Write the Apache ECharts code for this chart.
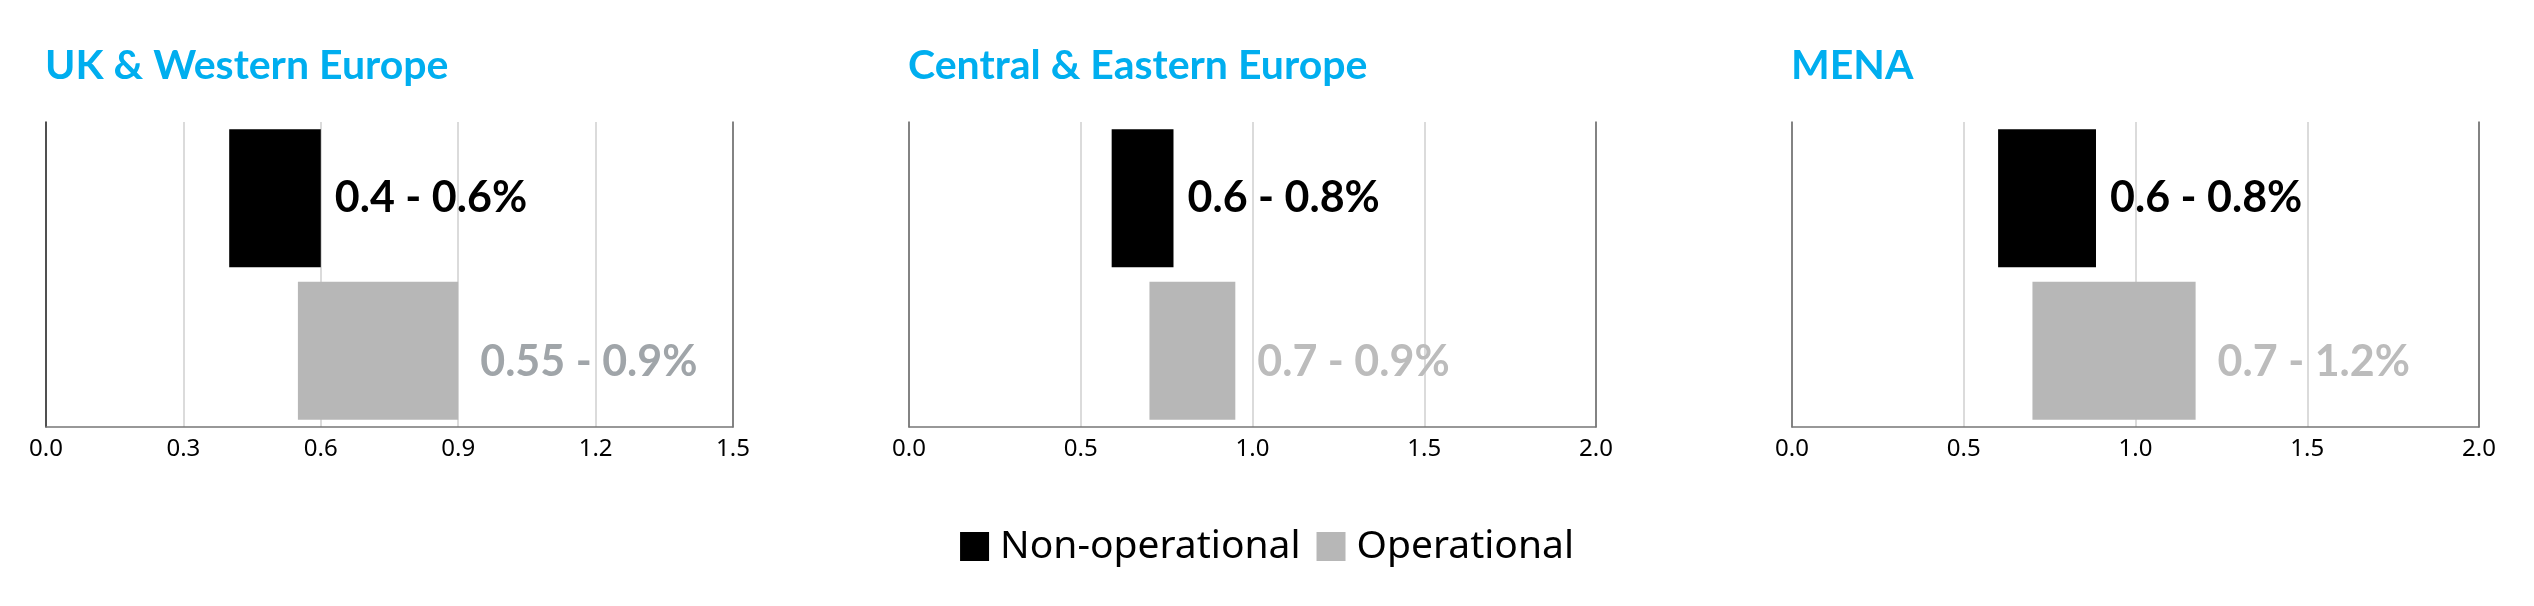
<!DOCTYPE html>
<html>
<head>
<meta charset="utf-8">
<script src="https://cdn.jsdelivr.net/npm/echarts@6/dist/echarts.min.js"></script>
<style>
  html, body { margin: 0; padding: 0; background: #fff; }
  #chart { width: 2534px; height: 606px; }
</style>
</head>
<body>
<div id="chart"></div>
<script>
// regions and categories
var regions = ['UK & Western Europe', 'Central & Eastern Europe', 'MENA'];
var categories = ['Non-operational', 'Operational'];
// axis settings per panel
var axisMax = [1.5, 2.0, 2.0];
var axisStep = [0.3, 0.5, 0.5];
// bar ranges
var nonOpLow = [0.4, 0.59, 0.6];
var nonOpHigh = [0.6, 0.77, 0.885];
var opLow = [0.55, 0.7, 0.7];
var opHigh = [0.9, 0.95, 1.175];
// printed labels
var nonOpText = ['0.4 - 0.6%', '0.6 - 0.8%', '0.6 - 0.8%'];
var opText = ['0.55 - 0.9%', '0.7 - 0.9%', '0.7 - 1.2%'];
var opTextColor = ['#a0a5a9', '#bcbcbc', '#bcbcbc'];

var gridLeft = [46, 909, 1792];
var titleBlue = '#00aeef';

var chart = echarts.init(document.getElementById('chart'));

var grids = [], xAxes = [], yAxes = [], series = [], titles = [];

regions.forEach(function (name, i) {
  titles.push({
    text: name,
    left: gridLeft[i] - 6,
    top: 40,
    textStyle: { color: titleBlue, fontFamily: 'Lato', fontWeight: 'bold', fontSize: 41 }
  });
  grids.push({ left: gridLeft[i], top: 122, width: 687, height: 305, outerBoundsMode: 'none' });
  xAxes.push({
    type: 'value',
    gridIndex: i,
    min: 0,
    max: axisMax[i],
    interval: axisStep[i],
    axisLine: { show: true, lineStyle: { color: '#777', width: 1.5 } },
    axisTick: { show: false },
    axisLabel: {
      color: '#000',
      fontFamily: 'Noto Sans',
      fontSize: 24,
      margin: 10,
      formatter: function (v) { return v.toFixed(1); }
    },
    splitLine: { show: true, lineStyle: { color: '#cfcfcf', width: 1.5 } }
  });
  // left axis
  yAxes.push({
    type: 'category',
    gridIndex: i,
    data: categories,
    inverse: true,
    axisLine: { show: true, lineStyle: { color: i == 0 ? '#222' : '#666', width: 1.5 } },
    axisTick: { show: false },
    axisLabel: { show: false }
  });
  // right border
  yAxes.push({
    type: 'category',
    gridIndex: i,
    position: 'right',
    data: categories,
    inverse: true,
    axisLine: { show: true, lineStyle: { color: '#666', width: 1.5 } },
    axisTick: { show: false },
    axisLabel: { show: false }
  });

  var stackId = 'range' + i;
  series.push({
    name: 'base',
    type: 'bar',
    xAxisIndex: i,
    yAxisIndex: i * 2,
    stack: stackId,
    barWidth: 138,
    silent: true,
    itemStyle: { color: 'transparent' },
    data: [nonOpLow[i], opLow[i]]
  });
  series.push({
    name: 'Non-operational',
    type: 'bar',
    xAxisIndex: i,
    yAxisIndex: i * 2,
    stack: stackId,
    barWidth: 138,
    itemStyle: { color: '#000' },
    label: {
      show: true,
      position: 'right',
      distance: 14,
      color: '#000',
      fontFamily: 'Lato',
      fontWeight: 'bold',
      fontSize: 43,
      formatter: function () { return nonOpText[i]; }
    },
    data: [+(nonOpHigh[i] - nonOpLow[i]).toFixed(3), '-']
  });
  series.push({
    name: 'Operational',
    type: 'bar',
    xAxisIndex: i,
    yAxisIndex: i * 2,
    stack: stackId,
    barWidth: 138,
    itemStyle: { color: '#b7b7b7' },
    label: {
      show: true,
      position: 'right',
      distance: 22,
      offset: [0, 11],
      color: opTextColor[i],
      fontFamily: 'Lato',
      fontWeight: 'bold',
      fontSize: 43,
      formatter: function () { return opText[i]; }
    },
    data: ['-', +(opHigh[i] - opLow[i]).toFixed(3)]
  });
});

chart.setOption({
  animation: false,
  title: titles,
  legend: {
    data: categories,
    left: 'center',
    top: 522,
    icon: 'rect',
    itemWidth: 29,
    itemHeight: 29,
    itemGap: 16,
    selectedMode: false,
    textStyle: { color: '#000', fontFamily: 'Noto Sans', fontSize: 39, padding: [0, 0, 0, 6] }
  },
  grid: grids,
  xAxis: xAxes,
  yAxis: yAxes,
  series: series
});
</script>
</body>
</html>
